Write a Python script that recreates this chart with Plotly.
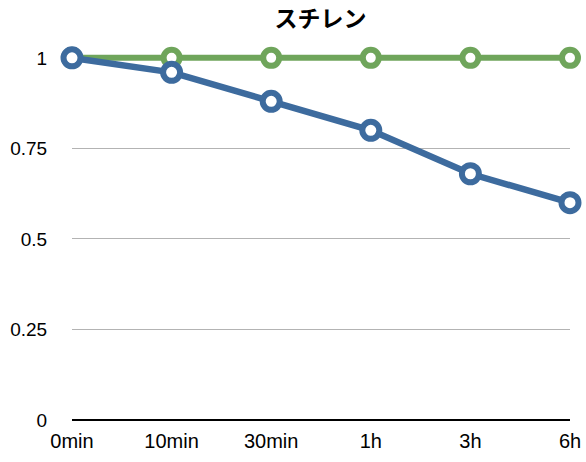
import plotly.graph_objects as go

categories = ["0min", "10min", "30min", "1h", "3h", "6h"]
series_green = [1, 1, 1, 1, 1, 1]
series_blue = [1, 0.96, 0.88, 0.80, 0.68, 0.60]
y_ticks = [0, 0.25, 0.5, 0.75, 1]
y_tick_labels = ["0", "0.25", "0.5", "0.75", "1"]

GREEN = "#6FA55B"
BLUE = "#3D6B9E"

fig = go.Figure()
fig.add_trace(go.Scatter(
    x=categories, y=series_green, mode="lines+markers",
    line=dict(color=GREEN, width=6),
    marker=dict(symbol="circle", size=16, color="white", line=dict(color=GREEN, width=6)),
    cliponaxis=False, showlegend=False,
))
fig.add_trace(go.Scatter(
    x=categories, y=series_blue, mode="lines+markers",
    line=dict(color=BLUE, width=6.5),
    marker=dict(symbol="circle", size=17, color="white", line=dict(color=BLUE, width=6)),
    cliponaxis=False, showlegend=False,
))

fig.update_layout(
    width=586, height=462,
    margin=dict(l=72, r=16, t=47, b=42, autoexpand=False),
    paper_bgcolor="white", plot_bgcolor="white",
    font=dict(family="Liberation Sans, Arial, sans-serif", size=18, color="black"),
    title=dict(text="<b>スチレン</b>", x=0.547, xanchor="center", y=0.958, yanchor="middle",
               font=dict(family="Noto Sans CJK JP", size=23, color="black")),
    xaxis=dict(
        type="category", range=[0, 5], showgrid=False, zeroline=False, automargin=False,
        showline=False, ticks="outside", ticklen=3, tickcolor="rgba(0,0,0,0)",
        tickfont=dict(size=20),
    ),
    yaxis=dict(
        range=[0, 1.03], tickvals=y_ticks, ticktext=y_tick_labels, automargin=False,
        showgrid=True, gridcolor="#B3B3B3", gridwidth=1,
        zeroline=True, zerolinecolor="black", zerolinewidth=2,
        showline=False, ticks="outside", ticklen=20, tickcolor="rgba(0,0,0,0)",
        tickfont=dict(size=19),
    ),
)

fig.write_html("out.html")
